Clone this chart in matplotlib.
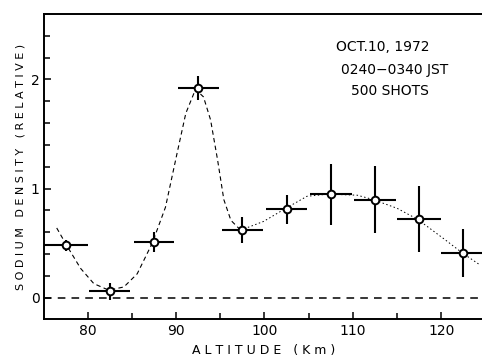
import matplotlib
matplotlib.use('Agg')
import matplotlib.pyplot as plt
from matplotlib.ticker import MultipleLocator

# measured points: altitude bin centre, density, errors
altitude = [77.5, 82.5, 87.5, 92.5, 97.5, 102.5, 107.5, 112.5, 117.5, 122.5]
density = [0.48, 0.06, 0.51, 1.92, 0.62, 0.81, 0.95, 0.90, 0.72, 0.41]
alt_err = [2.5, 2.3, 2.3, 2.3, 2.3, 2.3, 2.4, 2.4, 2.5, 2.5]
dens_err = [0.05, 0.08, 0.09, 0.11, 0.12, 0.13, 0.28, 0.31, 0.30, 0.22]

# hand-drawn curves
fit_alt = [76.5, 77.7, 79.2, 80.7, 82.4, 84.1, 85.6, 87.3, 88.8, 90.1, 91.1,
           92.2, 93.1, 93.9, 94.7, 95.4, 96.2, 97.3]
fit_dens = [0.64, 0.47, 0.27, 0.13, 0.07, 0.10, 0.22, 0.50, 0.83, 1.32, 1.69,
            1.91, 1.84, 1.63, 1.26, 0.90, 0.71, 0.62]
tail_alt = [97.3, 99.9, 102.2, 104.8, 107.2, 110.5, 112.3, 115.0, 117.3,
            120.3, 122.4, 124.4]
tail_dens = [0.62, 0.70, 0.81, 0.93, 0.95, 0.94, 0.90, 0.82, 0.72, 0.54,
             0.41, 0.30]

fig = plt.figure(figsize=(4.82, 3.57), dpi=100)
ax = fig.add_axes([0.092, 0.106, 0.908, 0.855])

ax.axhline(0, color='black', lw=1.1, ls=(0, (5, 4)))
ax.plot(fit_alt, fit_dens, color='black', lw=0.8, ls=(0, (4, 3)))
ax.plot(tail_alt, tail_dens, color='black', lw=0.7, ls=(0, (1.5, 2.5)))
ax.errorbar(altitude, density, xerr=alt_err, yerr=dens_err, fmt='o',
            color='black', ecolor='black', elinewidth=1.5, capsize=0,
            ms=5.5, mfc='white', mec='black', mew=1.4, zorder=5)

ax.set_xlim(75.1, 124.6)
ax.set_ylim(-0.195, 2.6)
ax.xaxis.set_major_locator(MultipleLocator(10))
ax.xaxis.set_minor_locator(MultipleLocator(5))
ax.yaxis.set_major_locator(MultipleLocator(1))
ax.yaxis.set_minor_locator(MultipleLocator(0.2))
ax.tick_params(which='both', direction='in', width=1.1, labelsize=10)
ax.tick_params(which='major', length=5)
ax.tick_params(which='minor', length=4)
ax.tick_params(top=False, right=False, which='both')
ax.spines['right'].set_visible(False)
for s in ['left', 'bottom', 'top']:
    ax.spines[s].set_linewidth(1.4)

ax.set_xlabel('A L T I T U D E   ( K m )', fontsize=9)
ax.set_ylabel('S O D I U M   D E N S I T Y   ( R E L A T I V E )', fontsize=8)

ax.text(0.667, 0.879, 'OCT.10, 1972', transform=ax.transAxes, fontsize=10)
ax.text(0.678, 0.803, '0240\u22120340 JST', transform=ax.transAxes, fontsize=10)
ax.text(0.70, 0.734, '500 SHOTS', transform=ax.transAxes, fontsize=10)

fig.savefig('out.png', dpi=100)
